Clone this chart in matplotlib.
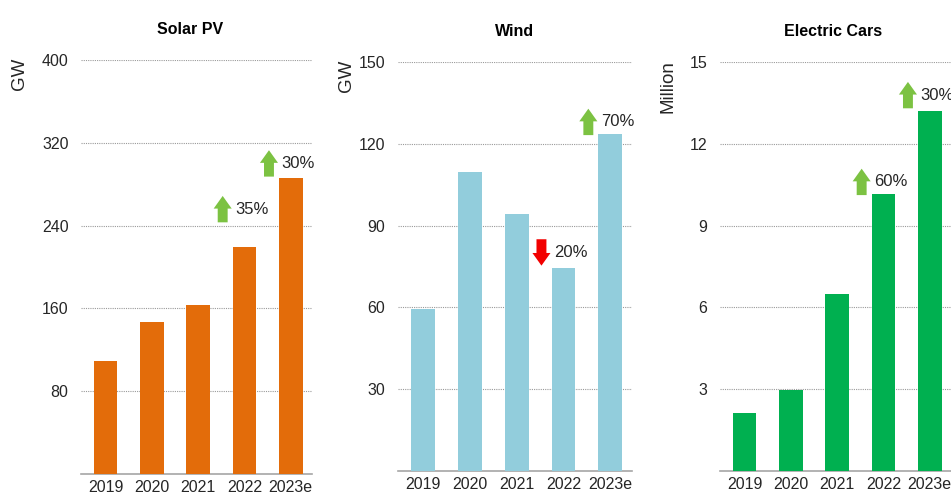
import matplotlib
matplotlib.use("Agg")
import matplotlib.pyplot as plt
import matplotlib.transforms as mtransforms

plt.rcParams['font.family'] = ['Liberation Sans', 'DejaVu Sans']

years = ['2019', '2020', '2021', '2022', '2023e']

solar_gw = [109, 147, 163, 219, 286]
wind_gw = [59.3, 109.8, 94.4, 74.3, 123.7]
ev_million = [2.12, 2.96, 6.5, 10.17, 13.2]

solar_ticks = [80, 160, 240, 320, 400]
wind_ticks = [30, 60, 90, 120, 150]
ev_ticks = [3, 6, 9, 12, 15]

# growth callouts: (bar index, label, direction)
solar_growth = [(3, '35%', 'up'), (4, '30%', 'up')]
wind_growth = [(3, '20%', 'down'), (4, '70%', 'up')]
ev_growth = [(3, '60%', 'up'), (4, '30%', 'up')]

panels = [
    dict(title='Solar PV', unit='GW', values=solar_gw, ticks=solar_ticks,
         growth=solar_growth, color='#E36C0A', rect=[0.0852, 0.052, 0.2429, 0.828],
         lift=[18, 1], title_x=0.47, unit_x=-0.268),
    dict(title='Wind', unit='GW', values=wind_gw, ticks=wind_ticks,
         growth=wind_growth, color='#92CDDC', rect=[0.4185, 0.058, 0.246, 0.818],
         lift=[2, -1], title_x=0.5, unit_x=-0.218),
    dict(title='Electric Cars', unit='Million', values=ev_million, ticks=ev_ticks,
         growth=ev_growth, color='#00B050', rect=[0.7571, 0.058, 0.2429, 0.818],
         lift=[-1, 2], title_x=0.49, unit_x=-0.223),
]

UP_GREEN = '#7CC242'
DOWN_RED = '#F20000'
TEXT = '#262626'

fig = plt.figure(figsize=(9.51, 5.0), dpi=100)

for p in panels:
    ax = fig.add_axes(p['rect'])
    x = list(range(len(years)))
    ax.bar(x, p['values'], width=0.51, color=p['color'], zorder=3)

    ax.set_xlim(-0.53, 4.46)
    ax.set_ylim(0, p['ticks'][-1])
    ax.set_yticks(p['ticks'])
    ax.set_xticks(x)
    ax.set_xticklabels(years)
    ax.tick_params(axis='y', length=0, pad=9, labelsize=11.5, labelcolor=TEXT)
    ax.tick_params(axis='x', length=0, pad=4, labelsize=11.5, labelcolor=TEXT)

    for t in p['ticks']:
        ax.axhline(t, color='#9a9a9a', lw=0.8, ls=(0, (1, 1)), zorder=1)

    for side in ['top', 'right', 'left']:
        ax.spines[side].set_visible(False)
    ax.spines['bottom'].set_color('#a6a6a6')
    ax.spines['bottom'].set_linewidth(1.2)

    ax.set_title(p['title'], fontsize=11.5, fontweight='bold', pad=19, x=p['title_x'])
    ax.text(p['unit_x'], 1.005, p['unit'], transform=ax.transAxes, rotation=90,
            ha='center', va='top', fontsize=13.5, color=TEXT)

    # arrows with percentage change
    for (idx, label, direction), lift in zip(p['growth'], p['lift']):
        v = p['values'][idx]
        ax_x = idx - 0.47
        low = mtransforms.offset_copy(ax.transData, fig=fig, y=lift, units='points')
        high = mtransforms.offset_copy(ax.transData, fig=fig, y=lift + 19, units='points')
        if direction == 'up':
            tip, tail, col = high, low, UP_GREEN
        else:
            tip, tail, col = low, high, DOWN_RED
        ax.annotate('', xy=(ax_x, v), xycoords=tip, xytext=(ax_x, v), textcoords=tail,
                    arrowprops=dict(arrowstyle='simple,head_length=0.7,head_width=1.0,tail_width=0.55',
                                    mutation_scale=13, color=col, lw=0,
                                    shrinkA=0, shrinkB=0),
                    annotation_clip=False)
        mid = mtransforms.offset_copy(ax.transData, fig=fig, x=9, y=lift + 9.5, units='points')
        ax.text(ax_x, v, label, transform=mid, ha='left', va='center',
                fontsize=12, color=TEXT, clip_on=False)

fig.savefig('out.png', dpi=100)
